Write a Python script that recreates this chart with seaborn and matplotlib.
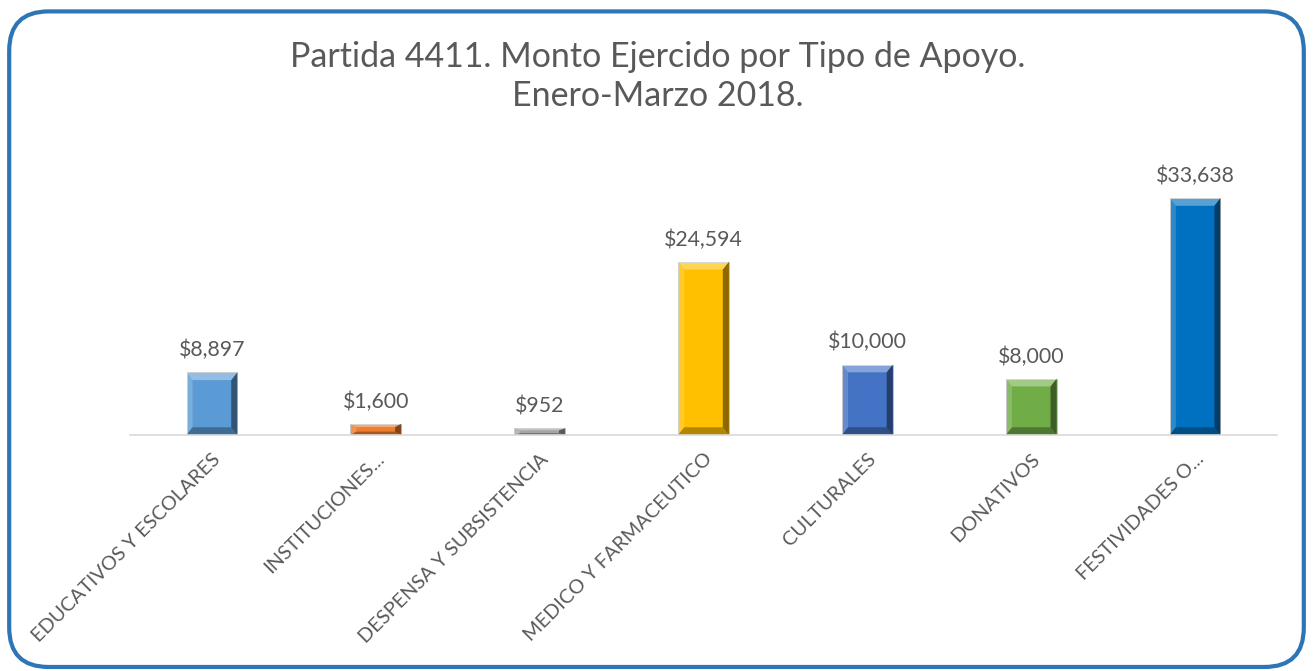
import matplotlib
matplotlib.use('Agg')
import matplotlib.pyplot as plt
import seaborn as sns
import pandas as pd
from matplotlib.patches import FancyBboxPatch, Polygon

# datos
categorias = ['EDUCATIVOS Y ESCOLARES', 'INSTITUCIONES...', 'DESPENSA Y SUBSISTENCIA',
              'MEDICO Y FARMACEUTICO', 'CULTURALES', 'DONATIVOS', 'FESTIVIDADES O...']
montos = [8897, 1600, 952, 24594, 10000, 8000, 33638]
colores = ['#5B9BD5', '#ED7D31', '#A5A5A5', '#FFC000', '#4472C4', '#70AD47', '#0070C0']
titulo = 'Partida 4411. Monto Ejercido por Tipo de Apoyo.\nEnero-Marzo 2018.'

df = pd.DataFrame({'tipo': categorias, 'monto': montos})

sns.set_style('white')
plt.rcParams['font.family'] = ['Lato', 'DejaVu Sans']
gris = '#595959'

fig = plt.figure(figsize=(13.13, 6.71), dpi=100)
ax = fig.add_axes([0.099, 0.3517, 0.8736, 0.420])

sns.barplot(data=df, x='tipo', y='monto', hue='tipo', palette=colores,
            width=0.31, legend=False, ax=ax, saturation=1)

# efecto biselado sencillo
for p in ax.patches:
    x0, y0 = p.get_x(), p.get_y()
    w, h = p.get_width(), p.get_height()
    p.set_edgecolor('#BFBFBF')
    p.set_linewidth(0.6)
    bw = w * 0.12
    bh = min(h * 0.3, 1100)
    # derecha oscura
    ax.add_patch(Polygon([(x0 + w, y0), (x0 + w, y0 + h), (x0 + w - bw, y0 + h - bh),
                          (x0 + w - bw, y0 + bh)], closed=True, color='black', alpha=0.45, lw=0))
    # arriba clara
    ax.add_patch(Polygon([(x0, y0 + h), (x0 + w, y0 + h), (x0 + w - bw, y0 + h - bh),
                          (x0 + bw, y0 + h - bh)], closed=True, color='white', alpha=0.35, lw=0))
    # izquierda clara
    ax.add_patch(Polygon([(x0, y0), (x0, y0 + h), (x0 + bw, y0 + h - bh),
                          (x0 + bw, y0 + bh)], closed=True, color='white', alpha=0.18, lw=0))
    # abajo oscura
    ax.add_patch(Polygon([(x0, y0), (x0 + w, y0), (x0 + w - bw, y0 + bh),
                          (x0 + bw, y0 + bh)], closed=True, color='black', alpha=0.3, lw=0))

for i, v in enumerate(montos):
    ax.text(i, v + 1700, f'${v:,}', ha='center', va='bottom', fontsize=15.3, color=gris)

ax.set_xlim(-0.5, 6.5)
ax.set_ylim(0, 40000)
ax.set_yticks([])
ax.set_xlabel('')
ax.set_ylabel('')
for s in ['top', 'right', 'left']:
    ax.spines[s].set_visible(False)
ax.spines['bottom'].set_color('#D9D9D9')
ax.spines['bottom'].set_linewidth(1.2)
ax.tick_params(axis='x', length=0, pad=11)
ax.set_xticks(range(len(categorias)))
ax.set_xticklabels(categorias, rotation=45, ha='right', rotation_mode='anchor',
                   fontsize=14.3, color=gris)
ax.set_facecolor('none')

fig.text(0.501, 0.886, titulo, ha='center', va='center', fontsize=24.5, color=gris, linespacing=1.25)

borde = FancyBboxPatch((0.007, 0.006), 0.986, 0.977, boxstyle='round,pad=0,rounding_size=0.03',
                       transform=fig.transFigure, fill=False, edgecolor='#2E75B6', linewidth=3,
                       mutation_aspect=1313 / 671)
fig.patches.append(borde)

fig.savefig('out.png', dpi=100)
